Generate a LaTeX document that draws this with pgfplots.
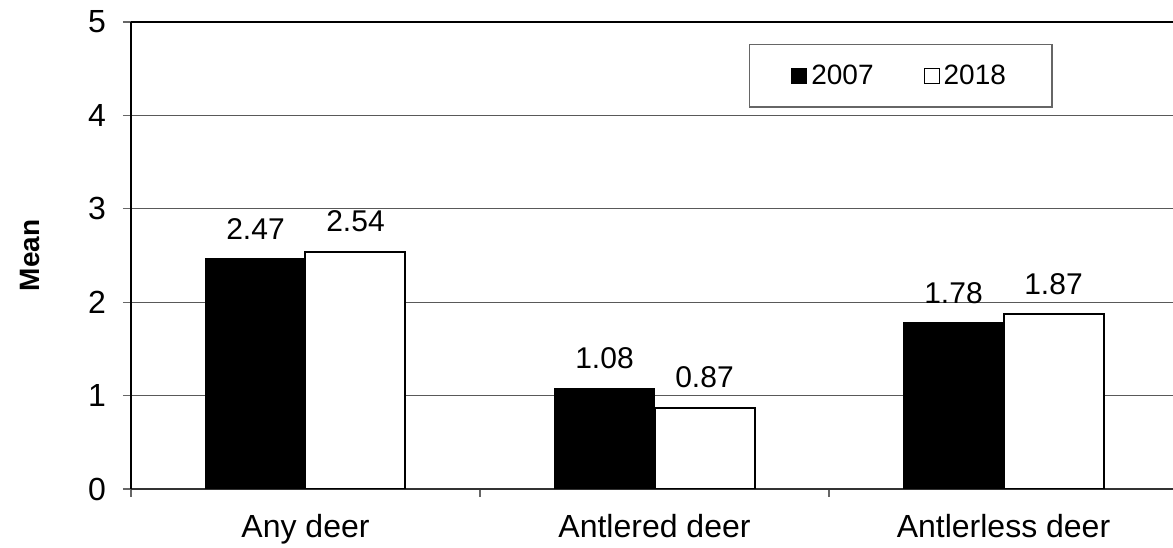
\documentclass[border=0pt]{standalone}
\usepackage{fontspec}
\setmainfont{Liberation Sans}
\usepackage{pgfplots}
\pgfplotsset{compat=1.18}

\pgfplotsset{
  sq legend/.style={legend image code/.code={%
    \draw[##1, line width=0.5pt] (0pt,-3.75pt) rectangle (7.5pt,3.75pt);}},
}

\begin{document}
\begin{tikzpicture}
\begin{axis}[
  scale only axis, width=523.5pt, height=233.5pt,
  xmin=0, xmax=3, ymin=0, ymax=5,
  ybar=0pt, bar width=50pt,
  axis x line*=bottom, axis y line*=left,
  x axis line style={black!80, line width=1pt},
  y axis line style={black, line width=1pt},
  xtick={0.5,1.5,2.5},
  xticklabels={Any deer, Antlered deer, Antlerless deer},
  minor xtick={0,1,2,3},
  ytick={0,...,5},
  ymajorgrids, major grid style={black!65, line width=0.5pt},
  tick align=outside,
  major x tick style={draw=none},
  major tick length=4pt, minor tick length=4pt,
  tick style={black!60, line width=0.6pt},
  /pgf/number format/assume math mode=true,
  ticklabel style={font=\fontsize{16}{19}\selectfont},
  xticklabel style={yshift=-5pt},
  yticklabel style={xshift=-5pt},
  ylabel={Mean},
  every axis y label/.style={at={(rel axis cs:0,0.5)}, xshift=-50.5pt, rotate=90,
    anchor=center, font=\bfseries\fontsize{14}{17}\selectfont},
  nodes near coords,
  nodes near coords style={font=\fontsize{15}{18}\selectfont, black, yshift=6pt,
    /pgf/number format/.cd, fixed, fixed zerofill, precision=2, assume math mode=true},
  legend columns=2,
  legend style={at={(rel axis cs:0.590,0.953)}, anchor=north west,
    draw=black!60, line width=0.6pt, font=\fontsize{14}{17}\selectfont,
    inner xsep=21pt, inner ysep=8pt,
    /tikz/every even column/.append style={column sep=23pt}},
]
\addplot[fill=black, draw=black, sq legend] coordinates {(0.5,2.47) (1.5,1.08) (2.5,1.78)};
\addplot[fill=white, draw=black, line width=1pt, sq legend] coordinates {(0.5,2.54) (1.5,0.87) (2.5,1.87)};
\legend{2007, 2018}
\draw[black, line width=1pt] (rel axis cs:0,1) -- (rel axis cs:1,1);
\coordinate (ll) at (rel axis cs:0,0);
\coordinate (ul) at (rel axis cs:0,1);
\end{axis}
\pgfresetboundingbox
\path ([xshift=-65.5pt,yshift=-29.5pt]ll) rectangle ([xshift=521pt,yshift=11pt]ul);
\end{tikzpicture}
\end{document}
